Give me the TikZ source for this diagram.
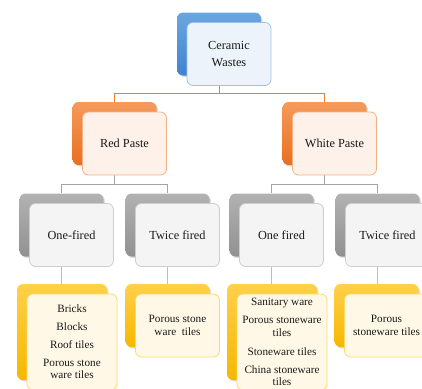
\documentclass[tikz,border=0pt]{standalone}
\usepackage{fontspec}
\setmainfont{Liberation Serif}
\usetikzlibrary{calc,shadows,backgrounds}
\definecolor{blueT}{HTML}{6AA6E0}
\definecolor{blueB}{HTML}{3F83D0}
\definecolor{orgT}{HTML}{F59A5C}
\definecolor{orgB}{HTML}{E8701F}
\definecolor{grayT}{HTML}{B2B2B2}
\definecolor{grayB}{HTML}{919191}
\definecolor{yelT}{HTML}{FFD04A}
\definecolor{yelB}{HTML}{F5B800}
\definecolor{blueF}{HTML}{EDF3FA}
\definecolor{blueL}{HTML}{9DC3E6}
\definecolor{orgF}{HTML}{FDF1EA}
\definecolor{orgL}{HTML}{F4B183}
\definecolor{grayF}{HTML}{F4F4F4}
\definecolor{grayL}{HTML}{CDCDCD}
\definecolor{yelF}{HTML}{FFF8E6}
\definecolor{yelL}{HTML}{FFD966}
\definecolor{orgC}{HTML}{ED7D31}
\definecolor{grayC}{HTML}{A5A5A5}
\definecolor{yelC}{HTML}{FFC000}
\begin{document}
\begin{tikzpicture}[x=1pt,y=-1pt,
  base/.style={rounded corners=6pt, inner sep=2pt, align=center},
  lv/.style={minimum width=84pt, minimum height=63pt},
  tall/.style={minimum width=90pt, minimum height=96pt},
  bk/.style={base, drop shadow={shadow xshift=1.5pt,shadow yshift=-1.5pt,opacity=0.25}},
  bblue/.style={bk, top color=blueT, bottom color=blueB},
  borg/.style={bk, top color=orgT, bottom color=orgB},
  bgray/.style={bk, top color=grayT, bottom color=grayB},
  byel/.style={bk, top color=yelT, bottom color=yelB},
  fr/.style={base, line width=0.8pt, text=black!90, font=\fontsize{12.3}{16.5}\selectfont},
  fblue/.style={fr, draw=blueL, fill=blueF},
  forg/.style={fr, draw=orgL, fill=orgF},
  fgray/.style={fr, draw=grayL, fill=grayF},
  fyel/.style={fr, draw=yelL, fill=yelF, font=\fontsize{11.2}{12.5}\selectfont},
  conn/.style={line width=0.8pt}
]
\useasboundingbox (0,0) rectangle (422,388);

% back boxes
\node[bblue,lv] (b0) at (219,44) {};
\node[borg,lv] (r) at (114.5,133.5) {};
\node[borg,lv] (w) at (324.5,133.5) {};
\node[bgray,lv] (g1) at (61.5,225) {};
\node[bgray,lv] (g2) at (167.5,225) {};
\node[bgray,lv] (g3) at (271.5,225) {};
\node[bgray,lv] (g4) at (377.5,225) {};
\node[byel,tall] (y1) at (62,332) {};
\node[byel,lv] (y2) at (167.5,315.5) {};
\node[byel,tall] (y3) at (272,332) {};
\node[byel,lv] (y4) at (376.5,315.5) {};

% front boxes
\node[fblue,lv] (f0) at ([shift={(10pt,-10pt)}]b0.center) {Ceramic\\Wastes};
\node[forg,lv] (fr) at ([shift={(10pt,-10pt)}]r.center) {Red Paste};
\node[forg,lv] (fw) at ([shift={(10pt,-10pt)}]w.center) {White Paste};
\node[fgray,lv] (fg1) at ([shift={(10pt,-10pt)}]g1.center) {One-fired};
\node[fgray,lv] (fg2) at ([shift={(10pt,-10pt)}]g2.center) {Twice fired};
\node[fgray,lv] (fg3) at ([shift={(10pt,-10pt)}]g3.center) {One fired};
\node[fgray,lv] (fg4) at ([shift={(10pt,-10pt)}]g4.center) {Twice fired};
\node[fyel,tall] (fy1) at ([shift={(10pt,-10pt)}]y1.center) {Bricks\\[5.5pt]Blocks\\[5.5pt]Roof tiles\\[5pt]Porous stone\\ware tiles};
\node[fyel,lv] (fy2) at ([shift={(10pt,-10pt)}]y2.center) {Porous stone\\ware~ tiles};
\node[fyel,tall] (fy3) at ([shift={(10pt,-10pt)}]y3.center) {Sanitary ware\\[6pt]Porous stoneware\\tiles\\[6.5pt]Stoneware tiles\\[5.5pt]China stoneware\\tiles};
\node[fyel,lv] (fy4) at ([shift={(10pt,-10pt)}]y4.center) {Porous\\stoneware tiles};

% junctions
\coordinate (j0) at ($(f0.south)!0.5!(r.north)$);
\coordinate (j1) at ($(fr.south)!0.5!(g1.north)$);
\coordinate (j2) at ($(fw.south)!0.5!(g3.north)$);

\begin{scope}[on background layer]
\draw[conn,orgC] (b0.south) -- (b0.south |- j0);
\draw[conn,orgC] (r.north) |- (b0.south |- j0) -| (w.north);
\draw[conn,grayC] (r.south) -- (r.south |- j1);
\draw[conn,grayC] (g1.north) |- (r.south |- j1) -| (g2.north);
\draw[conn,grayC] (w.south) -- (w.south |- j2);
\draw[conn,grayC] (g3.north) |- (w.south |- j2) -| (g4.north);
\draw[conn,yelC] (g1.south) -- (g1.south |- y1.north);
\draw[conn,yelC] (g2.south) -- (g2.south |- y2.north);
\draw[conn,yelC] (g3.south) -- (g3.south |- y3.north);
\draw[conn,yelC] (g4.south) -- (g4.south |- y4.north);
\end{scope}
\end{tikzpicture}
\end{document}
